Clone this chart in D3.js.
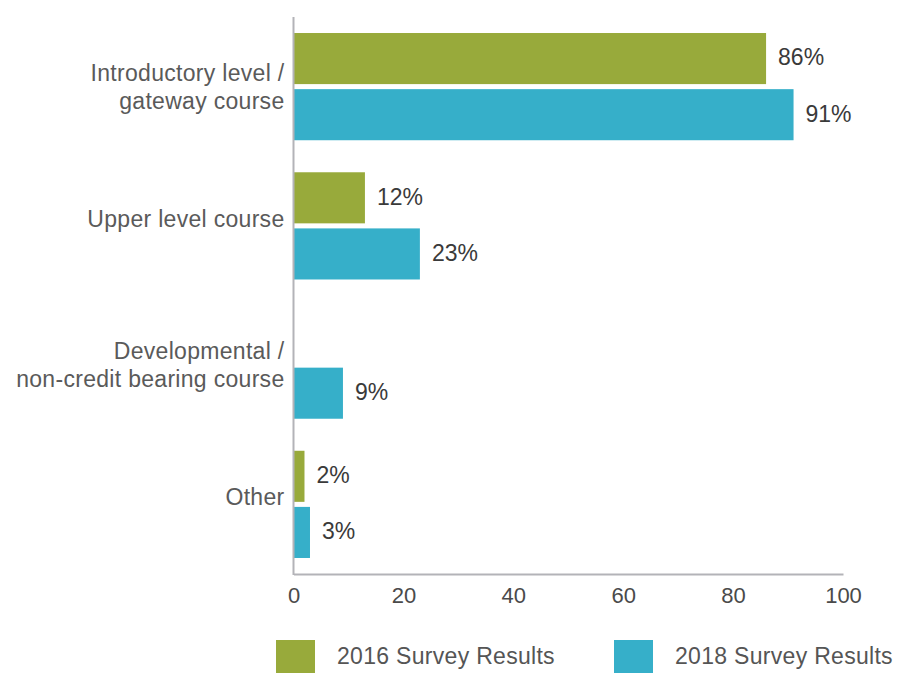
<!DOCTYPE html>
<html>
<head>
<meta charset="utf-8">
<script src="https://cdn.jsdelivr.net/npm/d3@7"></script>
<style>
  body { margin: 0; background: #fff; }
  text { font-family: "Liberation Sans", Arial, sans-serif; }
</style>
</head>
<body>
<div id="chart"></div>
<script>
// Categories (each split into lines for the left labels)
const categories = ["Introductory level / gateway course", "Upper level course",
    "Developmental / non-credit bearing course", "Other"];
const categoryLines = [["Introductory level /", "gateway course"], ["Upper level course"],
    ["Developmental /", "non-credit bearing course"], ["Other"]];
const seriesNames = ["2016 Survey Results", "2018 Survey Results"];
// bar lengths as drawn (percent)
const values2016 = [86, 13, 0, 2];
const values2018 = [91, 23, 9, 3];
// printed labels
const labels2016 = ["86%", "12%", "", "2%"];
const labels2018 = ["91%", "23%", "9%", "3%"];
const xTicks = [0, 20, 40, 60, 80, 100];

const colors = ["#98AA3B", "#36AFC9"];

const width = 897, height = 673;
const margin = { top: 17, right: 54, bottom: 99, left: 293.5 };
const innerW = width - margin.left - margin.right;
const innerH = height - margin.top - margin.bottom;

const svg = d3.select("#chart")
    .append("svg")
    .attr("width", width)
    .attr("height", height);

const g = svg.append("g")
    .attr("transform", `translate(${margin.left},${margin.top})`);

const x = d3.scaleLinear().domain([0, 100]).range([0, innerW]);

const y = d3.scaleBand()
    .domain(categories)
    .range([0, innerH])
    .paddingInner(0.23)
    .paddingOuter(0.115);

const ySub = d3.scaleBand()
    .domain(seriesNames)
    .range([0, y.bandwidth()])
    .paddingInner(0.09);

const rows = categories.map((c, i) => ({
    cat: c,
    lines: categoryLines[i],
    bars: [
        { s: seriesNames[0], v: values2016[i], label: labels2016[i] },
        { s: seriesNames[1], v: values2018[i], label: labels2018[i] }
    ]
}));

// Bars
const groups = g.selectAll(".grp")
    .data(rows)
    .enter().append("g")
    .attr("class", "grp")
    .attr("transform", d => `translate(0,${y(d.cat)})`);

groups.selectAll("rect")
    .data(d => d.bars)
    .enter().append("rect")
    .attr("x", 0)
    .attr("y", d => ySub(d.s))
    .attr("width", d => x(d.v))
    .attr("height", ySub.bandwidth())
    .attr("fill", (d, i) => colors[i]);

// Value labels
groups.selectAll(".val")
    .data(d => d.bars)
    .enter().append("text")
    .attr("class", "val")
    .attr("x", d => x(d.v) + 12)
    .attr("y", d => ySub(d.s) + ySub.bandwidth() / 2)
    .attr("dy", "0.3em")
    .attr("fill", "#3a3a3a")
    .attr("font-size", "23px")
    .text(d => d.label);

// Category labels
groups.each(function (d) {
    const t = d3.select(this).append("text")
        .attr("text-anchor", "end")
        .attr("fill", "#5a5a5a")
        .attr("font-size", "23px")
        .attr("letter-spacing", "0.3px");
    const mid = y.bandwidth() / 2;
    const offsets = d.lines.length === 2 ? [-6, 22] : [1];
    d.lines.forEach((line, k) => {
        t.append("tspan")
            .attr("x", -9)
            .attr("y", mid + offsets[k])
            .text(line);
    });
});

// X axis
const xAxis = g.append("g")
    .attr("transform", `translate(0,${innerH})`)
    .call(d3.axisBottom(x).tickValues(xTicks).tickSize(0).tickPadding(13));
xAxis.select(".domain").attr("stroke", "#b3b3b8").attr("stroke-width", 2);
xAxis.selectAll("text")
    .attr("fill", "#4a4a4a")
    .attr("font-size", "22px")
    .attr("font-family", "Liberation Sans, Arial, sans-serif");

// Y axis line
g.append("line")
    .attr("x1", 0).attr("x2", 0)
    .attr("y1", 0).attr("y2", innerH + 1)
    .attr("stroke", "#b3b3b8")
    .attr("stroke-width", 2);

// Legend
const legend = svg.append("g")
    .attr("transform", "translate(276,640)");

const legendX = [0, 338];
legend.selectAll("rect")
    .data(seriesNames)
    .enter().append("rect")
    .attr("x", (d, i) => legendX[i])
    .attr("y", 0)
    .attr("width", 39)
    .attr("height", 33)
    .attr("fill", (d, i) => colors[i]);

legend.selectAll("text")
    .data(seriesNames)
    .enter().append("text")
    .attr("x", (d, i) => legendX[i] + 61)
    .attr("y", 23.5)
    .attr("fill", "#555")
    .attr("font-size", "23px")
    .attr("letter-spacing", "0.3px")
    .text(d => d);
</script>
</body>
</html>
